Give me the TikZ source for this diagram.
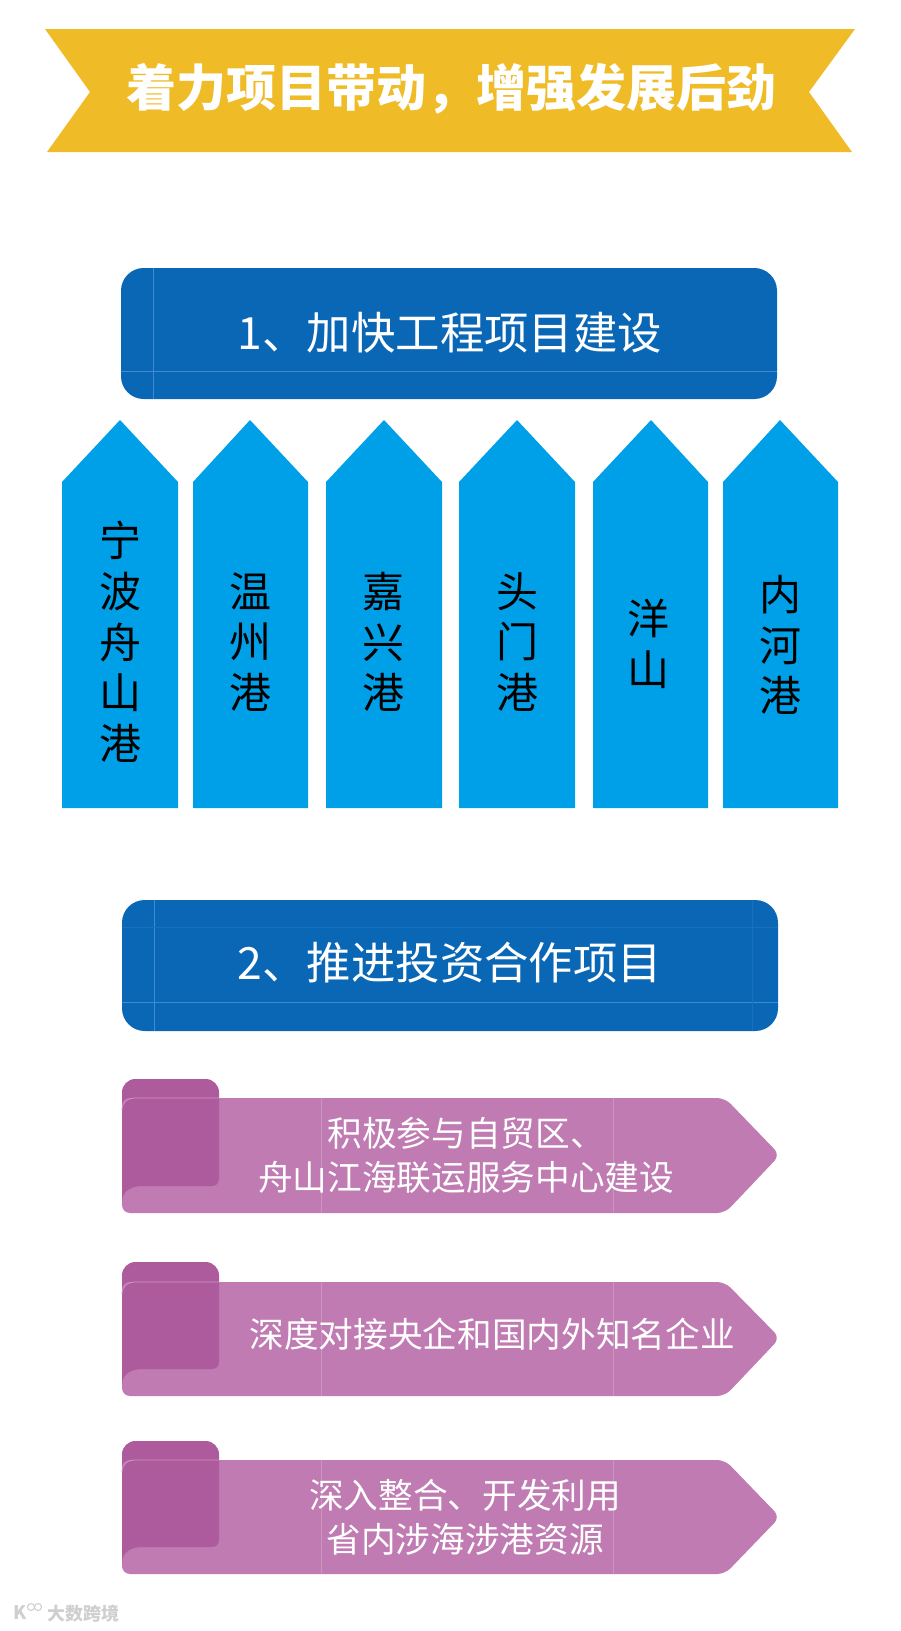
\documentclass[tikz,border=0pt]{standalone}
\usepackage{fontspec}
\usepackage{tikz}
\setmainfont{Noto Sans CJK SC}
\tikzset{banner/.style = {fill = bannergold}}
\tikzset{headbox/.style = {fill = headblue, rounded corners = 17pt}}
\tikzset{seam/.style = {draw = seamblue, line width = 0.5pt}}
\tikzset{faintseam/.style = {draw = seamfaint, line width = 0.4pt}}
\tikzset{pillar/.style = {fill = pillarblue}}
\tikzset{tab/.style = {fill = tabpurple}}
\tikzset{ribbon/.style = {fill = ribbonpurple, rounded corners = 6pt}}
\tikzset{crease/.style = {draw = creasepurple, line width = 0.4pt}}
\tikzset{rim/.style = {draw = ribbonedge, line width = 0.6pt}}
\tikzset{headtext/.style = {text = white, font = \fontsize{33.3}{40}\selectfont}}
\tikzset{pillartext/.style = {text = black, align = center, font = \fontsize{31.5}{38}\selectfont}}
\tikzset{ribbontext/.style = {text = white, align = center, font = \fontsize{26}{33}\selectfont}}
\definecolor{bannergold}{HTML}{EFBB27}
\definecolor{headblue}{HTML}{0A67B6}
\definecolor{seamblue}{HTML}{3F8AD0}
\definecolor{seamfaint}{HTML}{1A70BD}
\definecolor{pillarblue}{HTML}{00A0E9}
\definecolor{tabpurple}{HTML}{AE5B9E}
\definecolor{ribbonpurple}{HTML}{BF7BB2}
\definecolor{ribbonedge}{HTML}{CC94C2}
\definecolor{creasepurple}{HTML}{CB94C1}
\definecolor{markgray}{HTML}{CFCFCF}
\begin{document}
\begin{tikzpicture}[x = 0.75pt, y = -0.75pt]
	\useasboundingbox (0, 0) rectangle (900, 1631);

	% title
	\fill[banner] (45, 29) -- (855, 29) -- (809, 92) -- (852, 152) -- (47, 152) -- (90, 92) -- cycle;
	\node[text = white, font = \fontsize{37.5}{45}\selectfont\bfseries] (title) at (451, 89) {着力项目带动，增强发展后劲};

	% first heading
	\fill[headbox] (121, 268) rectangle (777, 399);
	\draw[seam] (153, 268) -- (153, 399);
	\draw[seam] (121, 371) -- (777, 371);
	\node[headtext] (head1) at (450, 333) {1、加快工程项目建设};

	% ports
	\fill[pillar] (62, 482) -- (120, 420) -- (178, 482) -- (178, 808) -- (62, 808) -- cycle;
	\fill[pillar] (193, 482) -- (250, 420) -- (308, 482) -- (308, 808) -- (193, 808) -- cycle;
	\fill[pillar] (326, 482) -- (384, 420) -- (442, 482) -- (442, 808) -- (326, 808) -- cycle;
	\fill[pillar] (459, 482) -- (517, 420) -- (575, 482) -- (575, 808) -- (459, 808) -- cycle;
	\fill[pillar] (593, 482) -- (651, 420) -- (708, 482) -- (708, 808) -- (593, 808) -- cycle;
	\fill[pillar] (723, 482) -- (780, 420) -- (838, 482) -- (838, 808) -- (723, 808) -- cycle;
	\node[pillartext] (port1) at (120, 642) {宁\\波\\舟\\山\\港};
	\node[pillartext] (port2) at (250, 642) {温\\州\\港};
	\node[pillartext] (port3) at (383, 642) {嘉\\兴\\港};
	\node[pillartext] (port4) at (517, 642) {头\\门\\港};
	\node[pillartext] (port5) at (648, 644) {洋\\山};
	\node[pillartext] (port6) at (780, 645) {内\\河\\港};

	% second heading
	\fill[headbox] (122, 900) rectangle (778, 1031);
	\draw[seam] (154, 900) -- (154, 1031);
	\draw[seam] (122, 1002) -- (778, 1002);
	\draw[faintseam] (752, 900) -- (752, 1031);
	\draw[faintseam] (122, 927) -- (778, 927);
	\node[headtext] (head2) at (450, 963) {2、推进投资合作项目};

	% ribbons
	\fill[tab, rounded corners = 10pt] (122, 1079) rectangle (219, 1186);
	\fill[ribbon] (122, 1098) -- (725, 1098) -- (780, 1155) -- (725, 1213) -- (122, 1213) -- cycle;
	\fill[tab] (122, 1110) .. controls (122, 1102) and (128, 1098) .. (134, 1098) -- (219, 1098) -- (219, 1178) .. controls (219, 1184) and (216, 1186) .. (211, 1186) -- (142, 1186) .. controls (130, 1186) and (122, 1192) .. (122, 1202) -- cycle;
	\draw[rim] (122, 1110) .. controls (122, 1102) and (128, 1098) .. (134, 1098) -- (219, 1098);
	\draw[crease] (321, 1098) -- (321, 1213);
	\draw[crease] (613, 1098) -- (613, 1213);
	\node[ribbontext] (deal1) at (466, 1155) {积极参与自贸区、\\舟山江海联运服务中心建设};

	\fill[tab, rounded corners = 10pt] (122, 1262) rectangle (219, 1369);
	\fill[ribbon] (122, 1282) -- (725, 1282) -- (780, 1338) -- (725, 1396) -- (122, 1396) -- cycle;
	\fill[tab] (122, 1294) .. controls (122, 1286) and (128, 1282) .. (134, 1282) -- (219, 1282) -- (219, 1361) .. controls (219, 1367) and (216, 1369) .. (211, 1369) -- (142, 1369) .. controls (130, 1369) and (122, 1375) .. (122, 1385) -- cycle;
	\draw[rim] (122, 1294) .. controls (122, 1286) and (128, 1282) .. (134, 1282) -- (219, 1282);
	\draw[crease] (321, 1282) -- (321, 1396);
	\draw[crease] (613, 1282) -- (613, 1396);
	\node[ribbontext] (deal2) at (492, 1334) {深度对接央企和国内外知名企业};

	\fill[tab, rounded corners = 10pt] (122, 1441) rectangle (219, 1547);
	\fill[ribbon] (122, 1460) -- (725, 1460) -- (780, 1517) -- (725, 1574) -- (122, 1574) -- cycle;
	\fill[tab] (122, 1472) .. controls (122, 1464) and (128, 1460) .. (134, 1460) -- (219, 1460) -- (219, 1539) .. controls (219, 1545) and (216, 1547) .. (211, 1547) -- (142, 1547) .. controls (130, 1547) and (122, 1553) .. (122, 1563) -- cycle;
	\draw[rim] (122, 1472) .. controls (122, 1464) and (128, 1460) .. (134, 1460) -- (219, 1460);
	\draw[crease] (321, 1460) -- (321, 1574);
	\draw[crease] (613, 1460) -- (613, 1574);
	\node[ribbontext] (deal3) at (465, 1517) {深入整合、开发利用\\省内涉海涉港资源};

	% mark
	\node[text = markgray, font = \fontsize{14}{16}\selectfont\bfseries] (logo) at (20, 1613) {K};
	\draw[markgray, line width = 0.8pt] (31, 1607) circle (3.5);
	\draw[markgray, line width = 0.8pt] (38, 1607) circle (3.5);
	\node[text = markgray, font = \fontsize{13.5}{16}\selectfont\bfseries] (mark) at (83, 1614) {大数跨境};
\end{tikzpicture}
\end{document}
